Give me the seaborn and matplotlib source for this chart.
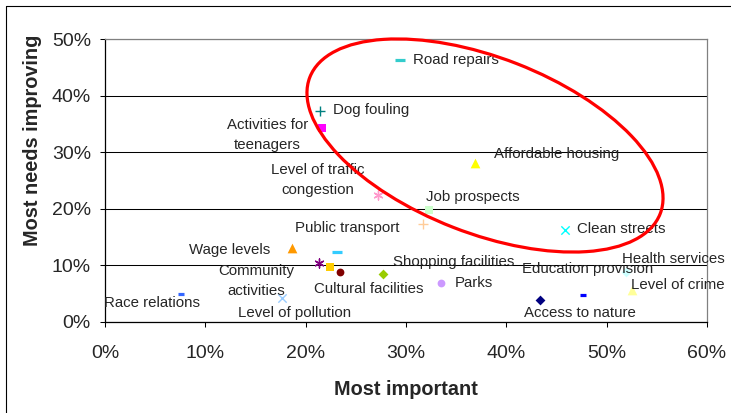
import matplotlib
matplotlib.use("Agg")
import matplotlib.pyplot as plt
import seaborn as sns
import pandas as pd
from matplotlib.patches import Ellipse
from matplotlib.lines import Line2D
from matplotlib.transforms import Affine2D
from matplotlib.ticker import PercentFormatter

# ---------------- data ----------------
names = ["Road repairs", "Dog fouling", "Activities for teenagers",
         "Level of traffic congestion", "Affordable housing", "Job prospects",
         "Public transport", "Clean streets", "Wage levels", "Other A",
         "Community activities", "Other B", "Cultural facilities",
         "Shopping facilities", "Race relations", "Level of pollution",
         "Parks", "Access to nature", "Education provision",
         "Health services", "Level of crime"]
most_important = [29.4, 21.4, 21.6, 27.2, 36.9, 32.3, 31.7, 45.8, 18.6, 23.1,
                  21.3, 22.4, 23.4, 27.7, 7.6, 17.6, 33.5, 43.4, 47.6, 51.9, 52.5]
most_needs = [46.3, 37.3, 34.3, 22.4, 28.1, 19.8, 17.3, 16.3, 13.1, 12.4,
              10.4, 9.7, 8.9, 8.4, 5.0, 4.2, 6.9, 3.9, 4.8, 8.8, 5.7]
x_ticks = [0, 10, 20, 30, 40, 50, 60]
y_ticks = [0, 10, 20, 30, 40, 50]

# ---------------- styles ----------------
style = {
    "Road repairs": ("_", "#33CCCC", 7.0),
    "Dog fouling": ("+", "#008080", 6.5),
    "Activities for teenagers": ("s", "#FF00FF", 5.8),
    "Level of traffic congestion": ((6, 2, 0), "#FF99CC", 6.5),
    "Affordable housing": ("^", "#FFFF00", 7.0),
    "Job prospects": ("s", "#CCFFCC", 5.8),
    "Public transport": ("+", "#FFCC99", 6.5),
    "Clean streets": ("x", "#00FFFF", 6.0),
    "Wage levels": ("^", "#FF9900", 7.0),
    "Other A": ("_", "#33CCFF", 7.0),
    "Community activities": ((6, 2, 0), "#800080", 6.5),
    "Other B": ("s", "#FFCC00", 5.8),
    "Cultural facilities": ("o", "#800000", 5.6),
    "Shopping facilities": ("D", "#99CC00", 5.0),
    "Race relations": ("_", "#3366FF", 4.0),
    "Level of pollution": ("x", "#99CCFF", 6.0),
    "Parks": ("o", "#CC99FF", 5.6),
    "Access to nature": ("D", "#000080", 5.0),
    "Education provision": ("_", "#0000FF", 4.0),
    "Health services": ("D", "#CCFFFF", 5.0),
    "Level of crime": ("^", "#FFFF99", 7.0),
}
# label text and its centre (in % units)
labels = {
    "Road repairs": ("Road repairs", 35.0, 46.3),
    "Dog fouling": ("Dog fouling", 26.5, 37.45),
    "Activities for teenagers": ("Activities for\nteenagers", 16.2, 33.0),
    "Level of traffic congestion": ("Level of traffic\ncongestion", 21.2, 25.1),
    "Affordable housing": ("Affordable housing", 45.0, 29.7),
    "Job prospects": ("Job prospects", 36.7, 22.1),
    "Public transport": ("Public transport", 24.1, 16.6),
    "Clean streets": ("Clean streets", 51.5, 16.4),
    "Wage levels": ("Wage levels", 12.4, 12.7),
    "Community activities": ("Community\nactivities", 15.05, 7.25),
    "Cultural facilities": ("Cultural facilities", 26.3, 5.8),
    "Shopping facilities": ("Shopping facilities", 34.8, 10.6),
    "Parks": ("Parks", 36.8, 6.9),
    "Race relations": ("Race relations", 4.7, 3.35),
    "Level of pollution": ("Level of pollution", 18.9, 1.6),
    "Education provision": ("Education provision", 48.1, 9.35),
    "Access to nature": ("Access to nature", 47.3, 1.6),
    "Health services": ("Health services", 56.6, 11.1),
    "Level of crime": ("Level of crime", 57.1, 6.55),
}

df = pd.DataFrame({"name": names, "x": most_important, "y": most_needs})

sns.set_style("white")
plt.rcParams["font.family"] = ["Liberation Sans", "DejaVu Sans"]

W, H = 731, 413
fig = plt.figure(figsize=(W / 100, H / 100), dpi=100)
ax = fig.add_axes([105 / W, 1 - 322 / H, 602 / W, 283 / H])

for _, row in df.iterrows():
    m, c, ms = style[row["name"]]
    filled = m in ("s", "^", "o", "D")
    kw = dict(x=[row["x"]], y=[row["y"]], marker=m, s=ms ** 2, ax=ax, zorder=3)
    if filled:
        sns.scatterplot(color=c, edgecolor=c, linewidth=0, **kw)
    else:
        lw = 2.3 if m == "_" else 1.0
        sns.scatterplot(color=c, linewidth=lw, **kw)

for name, (txt, lx, ly) in labels.items():
    ax.text(lx, ly, txt, ha="center", va="center", fontsize=10.8,
            linespacing=1.55, zorder=4, clip_on=False)

ax.set_xlim(0, 60)
ax.set_ylim(0, 50)
ax.set_xticks(x_ticks)
ax.set_yticks(y_ticks)
ax.xaxis.set_major_formatter(PercentFormatter(decimals=0))
ax.yaxis.set_major_formatter(PercentFormatter(decimals=0))
ax.tick_params(axis="both", direction="out", length=3.6, width=0.75,
               labelsize=14, color="black", pad=6.5)
ax.tick_params(axis="x", bottom=True, pad=13)
ax.tick_params(axis="y", left=True)
ax.set_xlabel("")
ax.set_ylabel("")
ax.grid(axis="y", color="black", linewidth=0.75)
ax.grid(axis="x", visible=False)
for s in ("left", "bottom"):
    ax.spines[s].set_color("black")
    ax.spines[s].set_linewidth(0.9)
for s in ("top", "right"):
    ax.spines[s].set_color("#808080")
    ax.spines[s].set_linewidth(0.9)

fig.text(405.5 / W, 1 - 395 / H, "Most important", ha="center", va="baseline",
         fontsize=14.3, fontweight="bold")
fig.text(32.5 / W, 1 - 140 / H, "Most needs improving", ha="center", va="center",
         rotation=90, fontsize=14.3, fontweight="bold")

# highlight ellipse (pixel space)
pix = Affine2D().scale(1 / W, 1 / H) + fig.transFigure
ell = Ellipse((485, H - 145.5), 376, 175.6, angle=-21.3, fill=False,
              edgecolor="#FF0000", linewidth=2.3, transform=pix, zorder=5)
fig.add_artist(ell)

# outer frame (left & top)
fig.add_artist(Line2D([5.5, 5.5], [0, H - 5.5], transform=pix, color="black", linewidth=0.8))
fig.add_artist(Line2D([5.5, W], [H - 5.5, H - 5.5], transform=pix, color="black", linewidth=0.8))

fig.savefig("out.png", dpi=100)
